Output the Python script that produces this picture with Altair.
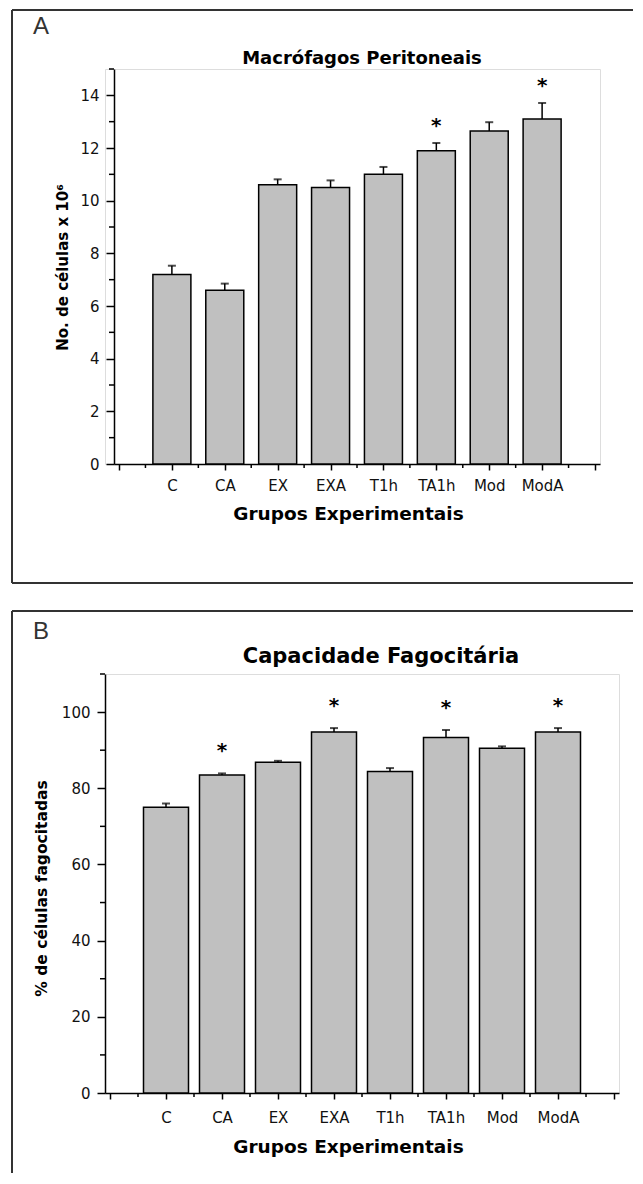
import altair as alt
import pandas as pd

groups = ["C", "CA", "EX", "EXA", "T1h", "TA1h", "Mod", "ModA"]

macro_mean = [7.2, 6.6, 10.6, 10.5, 11.0, 11.9, 12.65, 13.1]
macro_err = [0.33, 0.25, 0.21, 0.27, 0.28, 0.29, 0.33, 0.61]
macro_sig = [False, False, False, False, False, True, False, True]
macro_major = [0, 2, 4, 6, 8, 10, 12, 14]
macro_minor = [1, 3, 5, 7, 9, 11, 13, 15]

fago_mean = [75.0, 83.5, 86.8, 94.8, 84.4, 93.3, 90.5, 94.8]
fago_err = [1.0, 0.4, 0.4, 1.0, 0.9, 2.0, 0.5, 1.0]
fago_sig = [False, True, False, True, False, True, False, True]
fago_major = [0, 20, 40, 60, 80, 100]
fago_minor = [10, 30, 50, 70, 90, 110]

x_major = list(range(0, 10))
x_minor = [i + 0.5 for i in range(0, 9)]

LFONT = "DejaVu Sans"
TFONT = "DejaVu Sans"
names_js = "[" + ",".join("'" + g + "'" for g in groups) + "]"
label_expr = f"datum.value >= 1 && datum.value <= 8 ? {names_js}[datum.value - 1] : ''"


def one_row():
    return alt.Data(values=[{"k": 0}])


def panel(means, errs, sigs, ymax, major, minor, W, H, x0, bar_size,
          title, title_x, title_y, title_size, letter, letter_y,
          ytitle, ytitle_x, ytitle_y, ytitle_size, xlab_pad, xtitle_y,
          frame_left, frame_top, frame_bottom, frame_right, star_dy):
    df = pd.DataFrame({
        "group": groups,
        "pos": list(range(1, len(groups) + 1)),
        "mean": means,
        "top": [m + e for m, e in zip(means, errs)],
        "sig": sigs,
    })
    xs = alt.Scale(domain=[0, 9], nice=False, zero=False, range=[x0, W])
    ys = alt.Scale(domain=[0, ymax], nice=False)
    x_axis = alt.Axis(
        values=x_major, labelExpr=label_expr, title="Grupos Experimentais",
        tickSize=6, tickWidth=1.5, domainWidth=1.5, domainColor="black",
        tickColor="black", labelFont=LFONT, labelFontSize=15, labelColor="#111",
        labelPadding=xlab_pad, labelFlush=False, labelOverlap=False,
        titleFont=TFONT, titleFontSize=18.5, titleFontWeight="bold",
        titleColor="black", titleX=243, titleY=xtitle_y,
        titleBaseline="alphabetic", titleAlign="center", grid=False)
    y_axis = alt.Axis(
        values=major, tickSize=8, tickWidth=1.5, domainWidth=1.5,
        domainColor="black", tickColor="black", labelFont=LFONT,
        labelFontSize=15, labelColor="#111", labelPadding=7, offset=-x0,
        title=ytitle, titleFont=TFONT, titleFontSize=ytitle_size,
        titleFontWeight="bold", titleColor="black", titleAngle=-90,
        titleX=ytitle_x, titleY=ytitle_y, titleBaseline="middle",
        titleAlign="center", grid=False)
    base = alt.Chart(df)

    bars = base.mark_bar(size=bar_size, color="#c0c0c0", stroke="black",
                         strokeWidth=1.5).encode(
        x=alt.X("pos:Q", scale=xs, axis=x_axis),
        y=alt.Y("mean:Q", scale=ys, axis=y_axis),
    )
    err_line = base.mark_rule(color="black", strokeWidth=1.5).encode(
        x=alt.X("pos:Q", scale=xs, axis=x_axis),
        y=alt.Y("mean:Q", scale=ys, axis=y_axis),
        y2="top:Q",
    )
    err_cap = base.mark_tick(color="black", orient="horizontal", size=8,
                             thickness=2).encode(
        x=alt.X("pos:Q", scale=xs, axis=x_axis),
        y=alt.Y("top:Q", scale=ys, axis=y_axis),
    )
    stars = base.transform_filter("datum.sig").mark_text(
        text="*", font=TFONT, fontSize=20, fontWeight="bold", color="black",
        baseline="alphabetic", dy=star_dy).encode(
        x=alt.X("pos:Q", scale=xs, axis=x_axis),
        y=alt.Y("top:Q", scale=ys, axis=y_axis),
    )
    yminor = alt.Chart(pd.DataFrame({"v": minor})).mark_rule(
        color="black", strokeWidth=1.5).encode(
        y=alt.Y("v:Q", scale=ys, axis=y_axis),
        x=alt.value(x0 - 5), x2=alt.value(x0),
    )
    xminor = alt.Chart(pd.DataFrame({"v": x_minor})).mark_rule(
        color="black", strokeWidth=1.5).encode(
        x=alt.X("v:Q", scale=xs, axis=x_axis),
        y=alt.value(H), y2=alt.value(H + 4),
    )
    ttl = alt.Chart(one_row()).mark_text(
        text=title, font=TFONT, fontSize=title_size, fontWeight="bold",
        color="black", baseline="alphabetic", align="center").encode(
        x=alt.value(title_x), y=alt.value(title_y))
    let = alt.Chart(one_row()).mark_text(
        text=letter, font="Liberation Sans", fontSize=24, fontWeight="normal",
        color="#333", baseline="alphabetic", align="left").encode(
        x=alt.value(frame_left + 21), y=alt.value(letter_y))
    frame_color = "#333"
    lines = [
        alt.Chart(one_row()).mark_rule(color=frame_color, strokeWidth=2).encode(
            x=alt.value(frame_left), y=alt.value(frame_top),
            y2=alt.value(frame_bottom)),
        alt.Chart(one_row()).mark_rule(color=frame_color, strokeWidth=2).encode(
            x=alt.value(frame_left), x2=alt.value(frame_right),
            y=alt.value(frame_top)),
    ]
    if letter == "A":
        lines.append(alt.Chart(one_row()).mark_rule(color=frame_color, strokeWidth=2).encode(
            x=alt.value(frame_left), x2=alt.value(frame_right),
            y=alt.value(frame_bottom)))
    return alt.layer(bars, err_line, err_cap, stars, yminor, xminor, ttl, let,
                     *lines).properties(width=W, height=H)


# top panel: plot origin at page (104, 68), y axis drawn at x0=9 (page 113)
top = panel(macro_mean, macro_err, macro_sig, 15, macro_major, macro_minor,
            W=495, H=395, x0=9, bar_size=38,
            title="Macrófagos Peritoneais", title_x=257, title_y=-5, title_size=18,
            letter="A", letter_y=-35,
            ytitle="No. de células x 10⁶", ytitle_x=-52, ytitle_y=198,
            ytitle_size=15, xlab_pad=8, xtitle_y=55,
            frame_left=-93, frame_top=-59, frame_bottom=514, frame_right=528,
            star_dy=-11)

# bottom panel: plot origin at page (104, 673)
bottom = panel(fago_mean, fago_err, fago_sig, 110, fago_major, fago_minor,
               W=514, H=419, x0=0, bar_size=45,
               title="Capacidade Fagocitária", title_x=276, title_y=-11, title_size=21,
               letter="B", letter_y=-35,
               ytitle="% de células fagocitadas", ytitle_x=-64, ytitle_y=214,
               ytitle_size=15.5, xlab_pad=11, xtitle_y=59,
               frame_left=-93, frame_top=-63, frame_bottom=499, frame_right=528,
               star_dy=-16)

chart = alt.vconcat(top, bottom, spacing=210, bounds="flush").properties(
    padding={"left": 2, "top": 0, "right": 0, "bottom": 0}
).configure_view(strokeWidth=0).configure(font=LFONT)

chart.save("out.html", embed_options={"renderer": "svg", "actions": False})
